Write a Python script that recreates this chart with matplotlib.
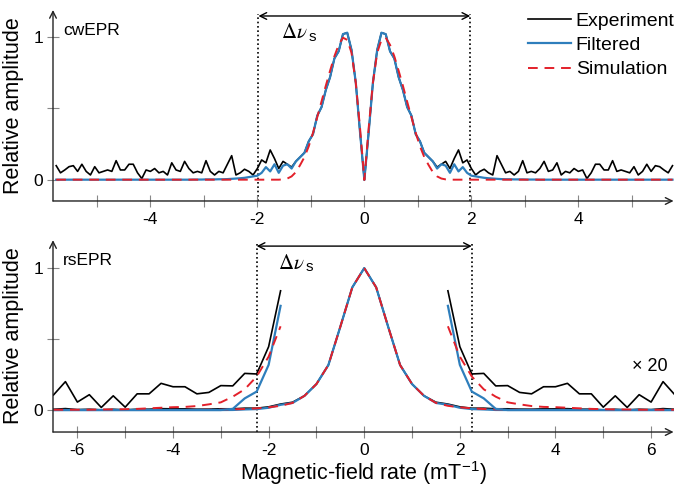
import numpy as np
import matplotlib
matplotlib.use("Agg")
import matplotlib.pyplot as plt

plt.rcParams["font.family"] = ["Liberation Sans", "DejaVu Sans"]
plt.rcParams["mathtext.fontset"] = "custom"
plt.rcParams["mathtext.rm"] = "Liberation Sans"
plt.rcParams["mathtext.it"] = "Liberation Sans:italic"
plt.rcParams["mathtext.sf"] = "Liberation Sans"
plt.rcParams["axes.unicode_minus"] = False

BLACK = "#000000"
BLUE = "#2e7ebc"
RED = "#e3202a"

# ---- cwEPR (top): the spectrum is symmetric, values read for x >= 0, step 0.08
cw_step = 0.08
cw_exp_half = [
    0.00, 0.33, 0.68, 0.91, 1.03, 1.02, 0.90, 0.85, 0.72, 0.63, 0.51, 0.45,
    0.32, 0.27, 0.19, 0.16, 0.13, 0.09, 0.11, 0.13, 0.08, 0.15, 0.21, 0.12,
    0.14, 0.08, 0.035, 0.06, 0.075, 0.05, 0.035, 0.17, 0.11, 0.05, 0.06, 0.035,
    0.06, 0.135, 0.05, 0.06, 0.05, 0.08, 0.13, 0.06, 0.07, 0.12, 0.035, 0.06,
    0.05, 0.08, 0.06, 0.07, 0.01, 0.05, 0.11, 0.11, 0.07, 0.07, 0.135, 0.06,
    0.07, 0.06, 0.05, 0.093, 0.035, 0.06, 0.11, 0.06, 0.10, 0.093, 0.07, 0.05,
    0.10,
]
cw_filt_half = [
    0.00, 0.33, 0.68, 0.91, 1.03, 1.02, 0.90, 0.85, 0.72, 0.63, 0.51, 0.45,
    0.32, 0.27, 0.19, 0.16, 0.13, 0.08, 0.11, 0.10, 0.05, 0.11, 0.06, 0.09,
    0.05, 0.03, 0.025, 0.02, 0.015, 0.012, 0.010, 0.008, 0.006, 0.005, 0.005, 0.004,
    0.004, 0.004, 0.003, 0.003, 0.003, 0.002, 0.002, 0.002, 0.002, 0.002, 0.002, 0.002,
    0.002, 0.002, 0.002, 0.002, 0.002, 0.002, 0.002, 0.002, 0.002, 0.002, 0.002, 0.002,
    0.002, 0.002, 0.002, 0.002, 0.002, 0.002, 0.002, 0.002, 0.002, 0.002, 0.002, 0.002,
    0.002,
]
cw_sim_half = [
    0.00, 0.36, 0.68, 0.89, 0.98, 0.995, 0.945, 0.865, 0.765, 0.66, 0.548, 0.44,
    0.33, 0.235, 0.16, 0.105, 0.055, 0.025, 0.010, 0.004, 0.002, 0.002, 0.002, 0.002,
    0.002, 0.002, 0.002, 0.002, 0.002, 0.002, 0.002, 0.002, 0.002, 0.002, 0.002, 0.002,
    0.002, 0.002, 0.002, 0.002, 0.002, 0.002, 0.002, 0.002, 0.002, 0.002, 0.002, 0.002,
    0.002, 0.002, 0.002, 0.002, 0.002, 0.002, 0.002, 0.002, 0.002, 0.002, 0.002, 0.002,
    0.002, 0.002, 0.002, 0.002, 0.002, 0.002, 0.002, 0.002, 0.002, 0.002, 0.002, 0.002,
    0.002,
]

# ---- rsEPR (bottom): symmetric, values for x >= 0, step 0.25
rs_step = 0.25
rs_exp_half = [
    1.0, 0.864, 0.587, 0.317, 0.183, 0.100, 0.055, 0.042, 0.0223, 0.0127, 0.0129,
    0.0085, 0.0086, 0.0062, 0.0057, 0.0082, 0.0082, 0.0094, 0.0057, 0.0057, 0.0010,
    0.0050, 0.0009, 0.0054, 0.0028, 0.0100, 0.0053,
]
rs_filt_half = [
    1.0, 0.864, 0.587, 0.317, 0.183, 0.100, 0.050, 0.0367, 0.0159, 0.0065, 0.0041,
    0.0004, 0.0, 0.0, 0.0, 0.0, 0.0, 0.0, 0.0, 0.0, 0.0,
    0.0, 0.0, 0.0, 0.0, 0.0, 0.0,
]
rs_sim_half = [
    1.0, 0.864, 0.587, 0.317, 0.183, 0.100, 0.050, 0.0295, 0.0188, 0.0118, 0.0073,
    0.0047, 0.0027, 0.0020, 0.0014, 0.0011, 0.0010, 0.0008, 0.0006, 0.0004, 0.0003,
    0.0002, 0.0002, 0.0001, 0.0001, 0.0001, 0.0001,
]
rs_zoom = 20
rs_zoom_from = 1.75

cw_width = 1.98   # Delta nu_s half-width, top
rs_width = 2.25   # Delta nu_s half-width, bottom


def mirror(half):
    half = np.asarray(half, dtype=float)
    return np.concatenate([half[:0:-1], half])


def half_grid(n, step):
    xs = np.arange(n) * step
    return np.concatenate([-xs[:0:-1], xs])


def style_axes(ax, xlim, ylim, xticks):
    ax.set_xlim(*xlim)
    ax.set_ylim(*ylim)
    for s in ax.spines.values():
        s.set_visible(False)
    arrow = dict(arrowstyle="->", color="#222222", lw=1.0,
                 shrinkA=0, shrinkB=0, mutation_scale=12)
    ax.annotate("", xy=(0, 1), xytext=(0, 0), xycoords="axes fraction",
                arrowprops=arrow, annotation_clip=False)
    ax.annotate("", xy=(1, 0), xytext=(0, 0), xycoords="axes fraction",
                arrowprops=arrow, annotation_clip=False)
    ax.set_xticks(xticks, [str(t) if t % 2 == 0 else "" for t in xticks])
    ax.set_yticks([0, 0.5, 1], ["0", "", "1"])
    ax.tick_params(direction="inout", length=8, width=0.8, color="#888888",
                   labelsize=12.5)
    ax.tick_params(axis="x", pad=4)
    ax.tick_params(axis="y", pad=3)
    ax.set_ylabel("Relative amplitude", fontsize=15.5)
    ax.yaxis.set_label_coords(-0.047, 0.5)


def delta_marker(ax, width, y_arrow, label_x, label_y, ymin):
    ax.vlines([-width, width], ymin, y_arrow + 0.012, colors="black",
              linestyles=(0, (1, 1.6)), lw=1.2, zorder=1)
    ax.annotate("", xy=(width, y_arrow), xytext=(-width, y_arrow),
                arrowprops=dict(arrowstyle="<->", color="black", lw=1.0,
                                shrinkA=0, shrinkB=0, mutation_scale=12))
    # "Delta nu" in a serif math face, the subscript s upright sans
    ax.text(label_x, label_y, r"$\Delta\nu$", fontsize=15,
            ha="right", va="center", math_fontfamily="stix")
    ax.annotate("s", xy=(label_x, label_y), xytext=(0.5, -3),
                textcoords="offset points", fontsize=11,
                ha="left", va="center")


fig = plt.figure(figsize=(6.76, 4.87), dpi=100)
ax1 = fig.add_axes([0.0784, 0.5873, 0.918, 0.3922])
ax2 = fig.add_axes([0.0784, 0.1129, 0.918, 0.394])

# top panel
x_cw = half_grid(len(cw_exp_half), cw_step)
l_exp, = ax1.plot(x_cw, mirror(cw_exp_half), color=BLACK, lw=1.2, label="Experiment")
l_filt, = ax1.plot(x_cw, mirror(cw_filt_half), color=BLUE, lw=1.6, label="Filtered")
l_sim, = ax1.plot(x_cw, mirror(cw_sim_half), color=RED, lw=1.4,
                  dashes=(5, 3.5), label="Simulation")
cw_ylim = (-0.147, 1.189)
style_axes(ax1, (-5.82, 5.78), cw_ylim, list(range(-5, 6)))
delta_marker(ax1, cw_width, 1.147, -1.06, 1.03, cw_ylim[0])
ax1.text(0.016, 0.895, "cwEPR", transform=ax1.transAxes, fontsize=12.5,
         ha="left", va="center")
ax1.legend(handles=[l_exp, l_filt, l_sim], loc="upper right",
           bbox_to_anchor=(0.998, 0.974), bbox_transform=fig.transFigure,
           frameon=False, fontsize=14, handlelength=2.2, handletextpad=0.25,
           labelspacing=0.33, borderpad=0, borderaxespad=0)

# bottom panel
x_rs = half_grid(len(rs_exp_half), rs_step)
exp_rs = mirror(rs_exp_half)
filt_rs = mirror(rs_filt_half)
sim_rs = mirror(rs_sim_half)
ax2.plot(x_rs, exp_rs, color=BLACK, lw=1.2)
ax2.plot(x_rs, filt_rs, color=BLUE, lw=1.6)
ax2.plot(x_rs, sim_rs, color=RED, lw=1.4, dashes=(5, 3.5))
for side in (x_rs <= -rs_zoom_from, x_rs >= rs_zoom_from):
    ax2.plot(x_rs[side], rs_zoom * exp_rs[side], color=BLACK, lw=1.2)
    ax2.plot(x_rs[side], rs_zoom * filt_rs[side], color=BLUE, lw=1.6)
    ax2.plot(x_rs[side], rs_zoom * sim_rs[side], color=RED, lw=1.4, dashes=(5, 3.5))
rs_ylim = (-0.155, 1.197)
style_axes(ax2, (-6.51, 6.47), rs_ylim, list(range(-6, 7)))
delta_marker(ax2, rs_width, 1.155, -1.25, 1.035, rs_ylim[0])
ax2.text(0.016, 0.895, "rsEPR", transform=ax2.transAxes, fontsize=12.5,
         ha="left", va="center")
ax2.text(5.6, 0.31, "\u00d7 20", fontsize=13, ha="left", va="center")
ax2.set_xlabel(r"Magnetic-field rate (mT$^{-1}$)", fontsize=15.5, labelpad=1)

fig.savefig("out.png", dpi=100)
